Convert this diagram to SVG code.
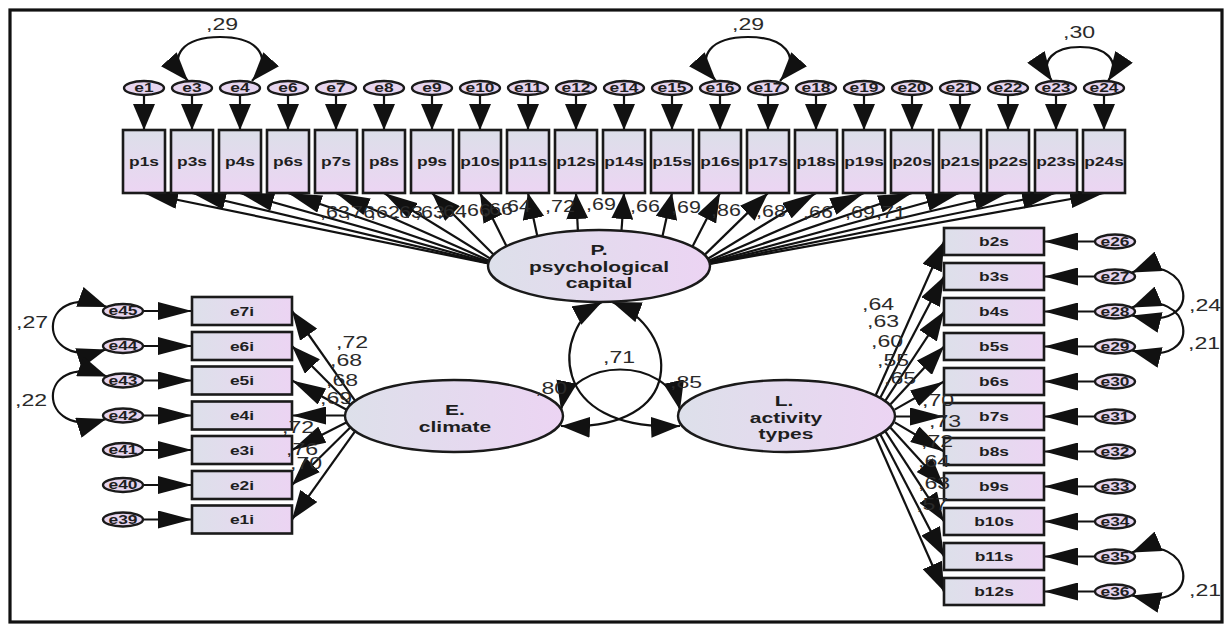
<svg xmlns="http://www.w3.org/2000/svg" width="1229" height="626" viewBox="0 0 1229 626">
<defs>
  <linearGradient id="gV" x1="0" y1="0" x2="0" y2="1">
    <stop offset="0" stop-color="#dcdfe9"/>
    <stop offset="1" stop-color="#ecd5f3"/>
  </linearGradient>
  <linearGradient id="gH" x1="0" y1="0" x2="1" y2="0">
    <stop offset="0" stop-color="#dde0ea"/>
    <stop offset="1" stop-color="#ecd4f3"/>
  </linearGradient>
  <marker id="ahV" viewBox="0 0 26 22" refX="26" refY="11" markerWidth="26" markerHeight="22" markerUnits="userSpaceOnUse" orient="auto-start-reverse">
    <path d="M0 0L26 11L0 22z" fill="#111"/>
  </marker>
  <marker id="ahH" viewBox="0 0 34 18" refX="34" refY="9" markerWidth="34" markerHeight="18" markerUnits="userSpaceOnUse" orient="auto-start-reverse">
    <path d="M0 0L34 9L0 18z" fill="#111"/>
  </marker>
  <marker id="ahD" viewBox="0 0 29 21" refX="29" refY="10.5" markerWidth="29" markerHeight="21" markerUnits="userSpaceOnUse" orient="auto-start-reverse">
    <path d="M0 0L29 10.5L0 21z" fill="#111"/>
  </marker>
  <style>
    .bv{fill:url(#gV);stroke:#1a1a1a;stroke-width:2.6}
    .bh{fill:url(#gH);stroke:#1a1a1a;stroke-width:2.6}
    .er{fill:#e6d5ef;stroke:#1a1a1a;stroke-width:2.4}
    .lv{fill:url(#gH);stroke:#1a1a1a;stroke-width:2.4}
    #connectors path{fill:none;stroke:#111;stroke-width:2.2}
    .v{marker-end:url(#ahV)}
    .h{marker-end:url(#ahH)}
    .d{marker-end:url(#ahD)}
    .cov{marker-start:url(#ahD);marker-end:url(#ahD)}
    text{font-family:"Liberation Sans",Arial,sans-serif;text-anchor:middle;fill:#1e1e1e}
    .tb{font-size:12px;font-weight:bold}
    .te{font-size:12px;font-weight:bold}
    .tl{font-size:14.5px;font-weight:bold}
    .tn{font-size:16.5px;fill:#2a2a2a}
  </style>
</defs>

<rect width="1229" height="626" fill="#fff"/>
<rect id="frame" x="10" y="10" width="1212" height="612" fill="#fff" stroke="#111" stroke-width="3.2"/>

<g id="connectors">
  <!-- residual arrows, top row -->
  <path class="v" d="M144 95V130"/><path class="v" d="M192 95V130"/><path class="v" d="M240 95V130"/>
  <path class="v" d="M288 95V130"/><path class="v" d="M336 95V130"/><path class="v" d="M384 95V130"/>
  <path class="v" d="M432 95V130"/><path class="v" d="M480 95V130"/><path class="v" d="M528 95V130"/>
  <path class="v" d="M576 95V130"/><path class="v" d="M624 95V130"/><path class="v" d="M672 95V130"/>
  <path class="v" d="M720 95V130"/><path class="v" d="M768 95V130"/><path class="v" d="M816 95V130"/>
  <path class="v" d="M864 95V130"/><path class="v" d="M912 95V130"/><path class="v" d="M960 95V130"/>
  <path class="v" d="M1008 95V130"/><path class="v" d="M1056 95V130"/><path class="v" d="M1104 95V130"/>

  <!-- loadings of P. psychological capital -->
  <path class="h" d="M488.3 263.5L144 193"/>
  <path class="h" d="M488.3 263.2L192 193"/>
  <path class="h" d="M488.5 262.7L240 193"/>
  <path class="h" d="M488.7 261.9L288 193"/>
  <path class="h" d="M489.2 260.7L336 193"/>
  <path class="h" d="M490.3 258.6L384 193"/>
  <path class="d" d="M493.7 254.7L432 193"/>
  <path class="d" d="M506.4 246.1L480 193"/>
  <path class="v" d="M537.3 236.1L528 193"/>
  <path class="v" d="M577.9 230.6L576 193"/>
  <path class="v" d="M621.5 230.8L624 193"/>
  <path class="v" d="M662.4 236.4L672 193"/>
  <path class="d" d="M692.5 246.6L720 193"/>
  <path class="d" d="M704.6 254.9L768 193"/>
  <path class="h" d="M707.8 258.8L816 193"/>
  <path class="h" d="M708.8 260.8L864 193"/>
  <path class="h" d="M709.3 261.9L912 193"/>
  <path class="h" d="M709.5 262.7L960 193"/>
  <path class="h" d="M709.7 263.2L1008 193"/>
  <path class="h" d="M709.8 263.6L1056 193"/>
  <path class="h" d="M709.8 263.9L1104 193"/>

  <!-- residual arrows, left column -->
  <path class="h" d="M143 311H192"/><path class="h" d="M143 346H192"/><path class="h" d="M143 380.5H192"/>
  <path class="h" d="M143 415.5H192"/><path class="h" d="M143 450H192"/><path class="h" d="M143 485H192"/>
  <path class="h" d="M143 519.5H192"/>

  <!-- loadings of E. climate -->
  <path class="d" d="M355.2 400.8L292 311"/>
  <path class="d" d="M350.4 404.7L292 346"/>
  <path class="h" d="M346.7 409.8L292 380.5"/>
  <path class="h" d="M345 415.5L292 415.5"/>
  <path class="h" d="M346.7 422.3L292 450"/>
  <path class="d" d="M350.5 427.2L292 485"/>
  <path class="d" d="M355.2 431.2L292 519.5"/>

  <!-- residual arrows, right column -->
  <path class="h" d="M1095 241.5H1044"/><path class="h" d="M1095 276.5H1044"/><path class="h" d="M1095 311.5H1044"/>
  <path class="h" d="M1095 346.5H1044"/><path class="h" d="M1095 381.5H1044"/><path class="h" d="M1095 416.5H1044"/>
  <path class="h" d="M1095 451.5H1044"/><path class="h" d="M1095 486.5H1044"/><path class="h" d="M1095 521.5H1044"/>
  <path class="h" d="M1095 556.5H1044"/><path class="h" d="M1095 591.5H1044"/>

  <!-- loadings of L. activity types -->
  <path class="d" d="M875.8 395L944 241.5"/>
  <path class="d" d="M880.5 397.3L944 276.5"/>
  <path class="d" d="M885.5 400.3L944 311.5"/>
  <path class="d" d="M890.5 404.3L944 346.5"/>
  <path class="h" d="M894.7 409.6L944 381.5"/>
  <path class="h" d="M895 416.5L944 416.5"/>
  <path class="h" d="M894.7 422.4L944 451.5"/>
  <path class="d" d="M890.5 427.7L944 486.5"/>
  <path class="d" d="M885.5 431.7L944 521.5"/>
  <path class="d" d="M880.5 434.7L944 556.5"/>
  <path class="d" d="M875.8 437L944 591.5"/>

  <!-- residual covariances -->
  <path class="cov" d="M188 81C165 55 185 37 220 37C255 37 275 55 252 81"/>
  <path class="cov" d="M716 81C693 55 713 37 748 37C783 37 803 55 780 81"/>
  <path class="cov" d="M1052 81C1038 60 1055 47 1080 47C1105 47 1122 60 1108 81"/>
  <path class="cov" d="M107 307C35 280 35 372 106 349.5"/>
  <path class="cov" d="M107 376.5C35 349.5 35 441.5 106 419"/>
  <path class="cov" d="M1132 272.5C1190 248 1210 335 1132 315.5"/>
  <path class="cov" d="M1132 307.5C1190 283 1210 370 1132 350.5"/>
  <path class="cov" d="M1132 552.5C1190 528 1210 615 1132 595.5"/>

  <!-- latent covariances -->
  <path class="cov" d="M612 302C680 328 690 432 561 426"/>
  <path class="cov" d="M602 302C553 328 545 432 680 426"/>
  <path class="cov" d="M561 410C572 356 668 356 680 410"/>
</g>

<g id="nodes">
  <!-- top indicators -->
  <g id="p1s"><rect class="bv" x="123" y="130" width="42" height="63"/><text class="tb" transform="translate(144 166) scale(1.45 1)">p1s</text></g>
  <g id="p3s"><rect class="bv" x="171" y="130" width="42" height="63"/><text class="tb" transform="translate(192 166) scale(1.45 1)">p3s</text></g>
  <g id="p4s"><rect class="bv" x="219" y="130" width="42" height="63"/><text class="tb" transform="translate(240 166) scale(1.45 1)">p4s</text></g>
  <g id="p6s"><rect class="bv" x="267" y="130" width="42" height="63"/><text class="tb" transform="translate(288 166) scale(1.45 1)">p6s</text></g>
  <g id="p7s"><rect class="bv" x="315" y="130" width="42" height="63"/><text class="tb" transform="translate(336 166) scale(1.45 1)">p7s</text></g>
  <g id="p8s"><rect class="bv" x="363" y="130" width="42" height="63"/><text class="tb" transform="translate(384 166) scale(1.45 1)">p8s</text></g>
  <g id="p9s"><rect class="bv" x="411" y="130" width="42" height="63"/><text class="tb" transform="translate(432 166) scale(1.45 1)">p9s</text></g>
  <g id="p10s"><rect class="bv" x="459" y="130" width="42" height="63"/><text class="tb" transform="translate(480 166) scale(1.45 1)">p10s</text></g>
  <g id="p11s"><rect class="bv" x="507" y="130" width="42" height="63"/><text class="tb" transform="translate(528 166) scale(1.45 1)">p11s</text></g>
  <g id="p12s"><rect class="bv" x="555" y="130" width="42" height="63"/><text class="tb" transform="translate(576 166) scale(1.45 1)">p12s</text></g>
  <g id="p14s"><rect class="bv" x="603" y="130" width="42" height="63"/><text class="tb" transform="translate(624 166) scale(1.45 1)">p14s</text></g>
  <g id="p15s"><rect class="bv" x="651" y="130" width="42" height="63"/><text class="tb" transform="translate(672 166) scale(1.45 1)">p15s</text></g>
  <g id="p16s"><rect class="bv" x="699" y="130" width="42" height="63"/><text class="tb" transform="translate(720 166) scale(1.45 1)">p16s</text></g>
  <g id="p17s"><rect class="bv" x="747" y="130" width="42" height="63"/><text class="tb" transform="translate(768 166) scale(1.45 1)">p17s</text></g>
  <g id="p18s"><rect class="bv" x="795" y="130" width="42" height="63"/><text class="tb" transform="translate(816 166) scale(1.45 1)">p18s</text></g>
  <g id="p19s"><rect class="bv" x="843" y="130" width="42" height="63"/><text class="tb" transform="translate(864 166) scale(1.45 1)">p19s</text></g>
  <g id="p20s"><rect class="bv" x="891" y="130" width="42" height="63"/><text class="tb" transform="translate(912 166) scale(1.45 1)">p20s</text></g>
  <g id="p21s"><rect class="bv" x="939" y="130" width="42" height="63"/><text class="tb" transform="translate(960 166) scale(1.45 1)">p21s</text></g>
  <g id="p22s"><rect class="bv" x="987" y="130" width="42" height="63"/><text class="tb" transform="translate(1008 166) scale(1.45 1)">p22s</text></g>
  <g id="p23s"><rect class="bv" x="1035" y="130" width="42" height="63"/><text class="tb" transform="translate(1056 166) scale(1.45 1)">p23s</text></g>
  <g id="p24s"><rect class="bv" x="1083" y="130" width="42" height="63"/><text class="tb" transform="translate(1104 166) scale(1.45 1)">p24s</text></g>

  <!-- top residuals -->
  <g id="e1"><ellipse class="er" cx="144" cy="88" rx="20" ry="7"/><text class="te" transform="translate(144 92.2) scale(1.45 1)">e1</text></g>
  <g id="e3"><ellipse class="er" cx="192" cy="88" rx="20" ry="7"/><text class="te" transform="translate(192 92.2) scale(1.45 1)">e3</text></g>
  <g id="e4"><ellipse class="er" cx="240" cy="88" rx="20" ry="7"/><text class="te" transform="translate(240 92.2) scale(1.45 1)">e4</text></g>
  <g id="e6"><ellipse class="er" cx="288" cy="88" rx="20" ry="7"/><text class="te" transform="translate(288 92.2) scale(1.45 1)">e6</text></g>
  <g id="e7"><ellipse class="er" cx="336" cy="88" rx="20" ry="7"/><text class="te" transform="translate(336 92.2) scale(1.45 1)">e7</text></g>
  <g id="e8"><ellipse class="er" cx="384" cy="88" rx="20" ry="7"/><text class="te" transform="translate(384 92.2) scale(1.45 1)">e8</text></g>
  <g id="e9"><ellipse class="er" cx="432" cy="88" rx="20" ry="7"/><text class="te" transform="translate(432 92.2) scale(1.45 1)">e9</text></g>
  <g id="e10"><ellipse class="er" cx="480" cy="88" rx="20" ry="7"/><text class="te" transform="translate(480 92.2) scale(1.45 1)">e10</text></g>
  <g id="e11"><ellipse class="er" cx="528" cy="88" rx="20" ry="7"/><text class="te" transform="translate(528 92.2) scale(1.45 1)">e11</text></g>
  <g id="e12"><ellipse class="er" cx="576" cy="88" rx="20" ry="7"/><text class="te" transform="translate(576 92.2) scale(1.45 1)">e12</text></g>
  <g id="e14"><ellipse class="er" cx="624" cy="88" rx="20" ry="7"/><text class="te" transform="translate(624 92.2) scale(1.45 1)">e14</text></g>
  <g id="e15"><ellipse class="er" cx="672" cy="88" rx="20" ry="7"/><text class="te" transform="translate(672 92.2) scale(1.45 1)">e15</text></g>
  <g id="e16"><ellipse class="er" cx="720" cy="88" rx="20" ry="7"/><text class="te" transform="translate(720 92.2) scale(1.45 1)">e16</text></g>
  <g id="e17"><ellipse class="er" cx="768" cy="88" rx="20" ry="7"/><text class="te" transform="translate(768 92.2) scale(1.45 1)">e17</text></g>
  <g id="e18"><ellipse class="er" cx="816" cy="88" rx="20" ry="7"/><text class="te" transform="translate(816 92.2) scale(1.45 1)">e18</text></g>
  <g id="e19"><ellipse class="er" cx="864" cy="88" rx="20" ry="7"/><text class="te" transform="translate(864 92.2) scale(1.45 1)">e19</text></g>
  <g id="e20"><ellipse class="er" cx="912" cy="88" rx="20" ry="7"/><text class="te" transform="translate(912 92.2) scale(1.45 1)">e20</text></g>
  <g id="e21"><ellipse class="er" cx="960" cy="88" rx="20" ry="7"/><text class="te" transform="translate(960 92.2) scale(1.45 1)">e21</text></g>
  <g id="e22"><ellipse class="er" cx="1008" cy="88" rx="20" ry="7"/><text class="te" transform="translate(1008 92.2) scale(1.45 1)">e22</text></g>
  <g id="e23"><ellipse class="er" cx="1056" cy="88" rx="20" ry="7"/><text class="te" transform="translate(1056 92.2) scale(1.45 1)">e23</text></g>
  <g id="e24"><ellipse class="er" cx="1104" cy="88" rx="20" ry="7"/><text class="te" transform="translate(1104 92.2) scale(1.45 1)">e24</text></g>

  <!-- left indicators and residuals -->
  <g id="e7i"><rect class="bh" x="192" y="297" width="100" height="28"/><text class="tb" transform="translate(242 315.5) scale(1.45 1)">e7i</text></g>
  <g id="e6i"><rect class="bh" x="192" y="332" width="100" height="28"/><text class="tb" transform="translate(242 350.5) scale(1.45 1)">e6i</text></g>
  <g id="e5i"><rect class="bh" x="192" y="366.5" width="100" height="28"/><text class="tb" transform="translate(242 385) scale(1.45 1)">e5i</text></g>
  <g id="e4i"><rect class="bh" x="192" y="401.5" width="100" height="28"/><text class="tb" transform="translate(242 420) scale(1.45 1)">e4i</text></g>
  <g id="e3i"><rect class="bh" x="192" y="436" width="100" height="28"/><text class="tb" transform="translate(242 454.5) scale(1.45 1)">e3i</text></g>
  <g id="e2i"><rect class="bh" x="192" y="471" width="100" height="28"/><text class="tb" transform="translate(242 489.5) scale(1.45 1)">e2i</text></g>
  <g id="e1i"><rect class="bh" x="192" y="505.5" width="100" height="28"/><text class="tb" transform="translate(242 524) scale(1.45 1)">e1i</text></g>
  <g id="e45"><ellipse class="er" cx="123" cy="311" rx="20" ry="7"/><text class="te" transform="translate(123 315.2) scale(1.45 1)">e45</text></g>
  <g id="e44"><ellipse class="er" cx="123" cy="346" rx="20" ry="7"/><text class="te" transform="translate(123 350.2) scale(1.45 1)">e44</text></g>
  <g id="e43"><ellipse class="er" cx="123" cy="380.5" rx="20" ry="7"/><text class="te" transform="translate(123 384.7) scale(1.45 1)">e43</text></g>
  <g id="e42"><ellipse class="er" cx="123" cy="415.5" rx="20" ry="7"/><text class="te" transform="translate(123 419.7) scale(1.45 1)">e42</text></g>
  <g id="e41"><ellipse class="er" cx="123" cy="450" rx="20" ry="7"/><text class="te" transform="translate(123 454.2) scale(1.45 1)">e41</text></g>
  <g id="e40"><ellipse class="er" cx="123" cy="485" rx="20" ry="7"/><text class="te" transform="translate(123 489.2) scale(1.45 1)">e40</text></g>
  <g id="e39"><ellipse class="er" cx="123" cy="519.5" rx="20" ry="7"/><text class="te" transform="translate(123 523.7) scale(1.45 1)">e39</text></g>

  <!-- right indicators and residuals -->
  <g id="b2s"><rect class="bh" x="944" y="228" width="100" height="27"/><text class="tb" transform="translate(994 246) scale(1.45 1)">b2s</text></g>
  <g id="b3s"><rect class="bh" x="944" y="263" width="100" height="27"/><text class="tb" transform="translate(994 281) scale(1.45 1)">b3s</text></g>
  <g id="b4s"><rect class="bh" x="944" y="298" width="100" height="27"/><text class="tb" transform="translate(994 316) scale(1.45 1)">b4s</text></g>
  <g id="b5s"><rect class="bh" x="944" y="333" width="100" height="27"/><text class="tb" transform="translate(994 351) scale(1.45 1)">b5s</text></g>
  <g id="b6s"><rect class="bh" x="944" y="368" width="100" height="27"/><text class="tb" transform="translate(994 386) scale(1.45 1)">b6s</text></g>
  <g id="b7s"><rect class="bh" x="944" y="403" width="100" height="27"/><text class="tb" transform="translate(994 421) scale(1.45 1)">b7s</text></g>
  <g id="b8s"><rect class="bh" x="944" y="438" width="100" height="27"/><text class="tb" transform="translate(994 456) scale(1.45 1)">b8s</text></g>
  <g id="b9s"><rect class="bh" x="944" y="473" width="100" height="27"/><text class="tb" transform="translate(994 491) scale(1.45 1)">b9s</text></g>
  <g id="b10s"><rect class="bh" x="944" y="508" width="100" height="27"/><text class="tb" transform="translate(994 526) scale(1.45 1)">b10s</text></g>
  <g id="b11s"><rect class="bh" x="944" y="543" width="100" height="27"/><text class="tb" transform="translate(994 561) scale(1.45 1)">b11s</text></g>
  <g id="b12s"><rect class="bh" x="944" y="578" width="100" height="27"/><text class="tb" transform="translate(994 596) scale(1.45 1)">b12s</text></g>
  <g id="e26"><ellipse class="er" cx="1115" cy="241.5" rx="20" ry="7"/><text class="te" transform="translate(1115 245.7) scale(1.45 1)">e26</text></g>
  <g id="e27"><ellipse class="er" cx="1115" cy="276.5" rx="20" ry="7"/><text class="te" transform="translate(1115 280.7) scale(1.45 1)">e27</text></g>
  <g id="e28"><ellipse class="er" cx="1115" cy="311.5" rx="20" ry="7"/><text class="te" transform="translate(1115 315.7) scale(1.45 1)">e28</text></g>
  <g id="e29"><ellipse class="er" cx="1115" cy="346.5" rx="20" ry="7"/><text class="te" transform="translate(1115 350.7) scale(1.45 1)">e29</text></g>
  <g id="e30"><ellipse class="er" cx="1115" cy="381.5" rx="20" ry="7"/><text class="te" transform="translate(1115 385.7) scale(1.45 1)">e30</text></g>
  <g id="e31"><ellipse class="er" cx="1115" cy="416.5" rx="20" ry="7"/><text class="te" transform="translate(1115 420.7) scale(1.45 1)">e31</text></g>
  <g id="e32"><ellipse class="er" cx="1115" cy="451.5" rx="20" ry="7"/><text class="te" transform="translate(1115 455.7) scale(1.45 1)">e32</text></g>
  <g id="e33"><ellipse class="er" cx="1115" cy="486.5" rx="20" ry="7"/><text class="te" transform="translate(1115 490.7) scale(1.45 1)">e33</text></g>
  <g id="e34"><ellipse class="er" cx="1115" cy="521.5" rx="20" ry="7"/><text class="te" transform="translate(1115 525.7) scale(1.45 1)">e34</text></g>
  <g id="e35"><ellipse class="er" cx="1115" cy="556.5" rx="20" ry="7"/><text class="te" transform="translate(1115 560.7) scale(1.45 1)">e35</text></g>
  <g id="e36"><ellipse class="er" cx="1115" cy="591.5" rx="20" ry="7"/><text class="te" transform="translate(1115 595.7) scale(1.45 1)">e36</text></g>

  <!-- latent variables -->
  <g id="P">
    <ellipse class="lv" cx="599" cy="266" rx="111" ry="36"/>
    <text class="tl" transform="translate(599 255) scale(1.45 1)">P.</text>
    <text class="tl" transform="translate(599 272) scale(1.45 1)">psychological</text>
    <text class="tl" transform="translate(599 288) scale(1.45 1)">capital</text>
  </g>
  <g id="E">
    <ellipse class="lv" cx="454" cy="416" rx="109" ry="36"/>
    <text class="tl" transform="translate(455 415) scale(1.45 1)">E.</text>
    <text class="tl" transform="translate(455 432) scale(1.45 1)">climate</text>
  </g>
  <g id="L">
    <ellipse class="lv" cx="786.5" cy="416" rx="108.5" ry="36"/>
    <text class="tl" transform="translate(784 406) scale(1.45 1)">L.</text>
    <text class="tl" transform="translate(786 423) scale(1.45 1)">activity</text>
    <text class="tl" transform="translate(786 439) scale(1.45 1)">types</text>
  </g>
</g>

<g id="labels">
  <!-- covariance estimates -->
  <text class="tn" transform="translate(222 30) scale(1.4 1)">,29</text>
  <text class="tn" transform="translate(748 30) scale(1.4 1)">,29</text>
  <text class="tn" transform="translate(1079 38) scale(1.4 1)">,30</text>
  <text class="tn" transform="translate(32 328) scale(1.4 1)">,27</text>
  <text class="tn" transform="translate(31 406) scale(1.4 1)">,22</text>
  <text class="tn" transform="translate(1205 311) scale(1.4 1)">,24</text>
  <text class="tn" transform="translate(1204 349) scale(1.4 1)">,21</text>
  <text class="tn" transform="translate(1205 596) scale(1.4 1)">,21</text>
  <text class="tn" transform="translate(551 394) scale(1.4 1)">,80</text>
  <text class="tn" transform="translate(686 388) scale(1.4 1)">,85</text>
  <text class="tn" transform="translate(619 363) scale(1.4 1)">,71</text>

  <!-- loadings, top -->
  <text class="tn" transform="translate(335 218) scale(1.3 1)">,63</text>
  <text class="tn" transform="translate(360 218) scale(1.3 1)">,76</text>
  <text class="tn" transform="translate(385 218) scale(1.3 1)">,62</text>
  <text class="tn" transform="translate(408 218) scale(1.3 1)">,63</text>
  <text class="tn" transform="translate(430 218) scale(1.3 1)">,63</text>
  <text class="tn" transform="translate(452 217) scale(1.3 1)">,64</text>
  <text class="tn" transform="translate(476 216) scale(1.3 1)">,66</text>
  <text class="tn" transform="translate(498 215) scale(1.3 1)">,66</text>
  <text class="tn" transform="translate(516 212) scale(1.3 1)">,64</text>
  <text class="tn" transform="translate(560 212) scale(1.3 1)">,72</text>
  <text class="tn" transform="translate(601 210) scale(1.3 1)">,69</text>
  <text class="tn" transform="translate(645 212) scale(1.3 1)">,66</text>
  <text class="tn" transform="translate(686 213) scale(1.3 1)">,69</text>
  <text class="tn" transform="translate(726 216) scale(1.3 1)">,86</text>
  <text class="tn" transform="translate(771 217) scale(1.3 1)">,68</text>
  <text class="tn" transform="translate(818 218) scale(1.3 1)">,66</text>
  <text class="tn" transform="translate(860 218) scale(1.3 1)">,69</text>
  <text class="tn" transform="translate(891 218) scale(1.3 1)">,71</text>

  <!-- loadings, left -->
  <text class="tn" transform="translate(352 348) scale(1.4 1)">,72</text>
  <text class="tn" transform="translate(346 366) scale(1.4 1)">,68</text>
  <text class="tn" transform="translate(342 386) scale(1.4 1)">,68</text>
  <text class="tn" transform="translate(336 404) scale(1.4 1)">,69</text>
  <text class="tn" transform="translate(298 433) scale(1.4 1)">,72</text>
  <text class="tn" transform="translate(302 455) scale(1.4 1)">,76</text>
  <text class="tn" transform="translate(306 469) scale(1.4 1)">,70</text>

  <!-- loadings, right -->
  <text class="tn" transform="translate(878 310) scale(1.4 1)">,64</text>
  <text class="tn" transform="translate(883 327) scale(1.4 1)">,63</text>
  <text class="tn" transform="translate(887 347) scale(1.4 1)">,60</text>
  <text class="tn" transform="translate(893 366) scale(1.4 1)">,55</text>
  <text class="tn" transform="translate(900 384) scale(1.4 1)">,65</text>
  <text class="tn" transform="translate(938 406) scale(1.4 1)">,70</text>
  <text class="tn" transform="translate(945 427) scale(1.4 1)">,73</text>
  <text class="tn" transform="translate(937 447) scale(1.4 1)">,72</text>
  <text class="tn" transform="translate(934 467) scale(1.4 1)">,64</text>
  <text class="tn" transform="translate(934 489) scale(1.4 1)">,63</text>
  <text class="tn" transform="translate(932 510) scale(1.4 1)">,57</text>
</g>
</svg>
